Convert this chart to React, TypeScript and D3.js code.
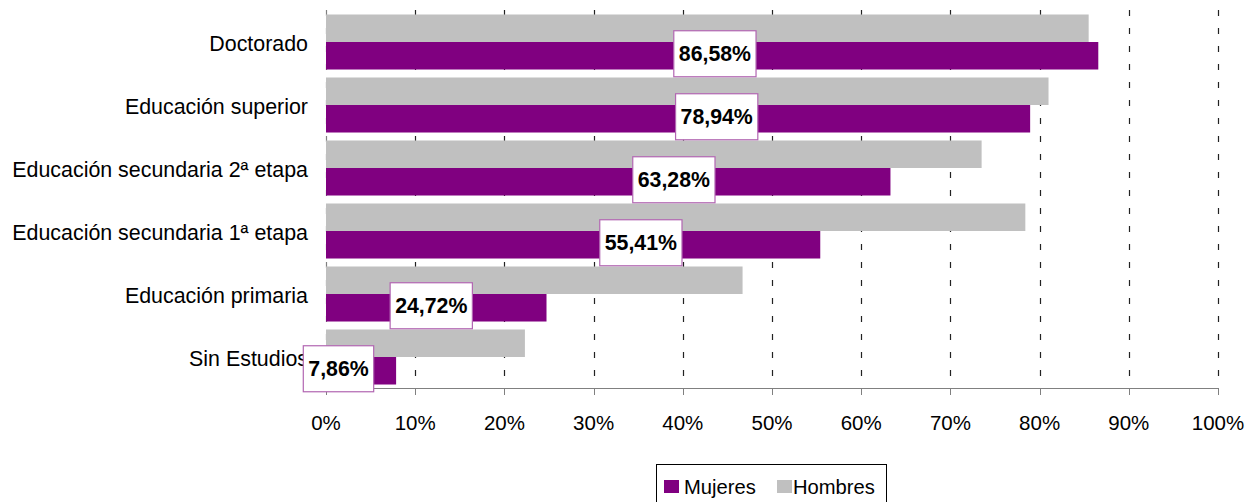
import React, { useEffect, useRef } from "react";
import * as d3 from "d3";

const categories = [
  "Doctorado",
  "Educación superior",
  "Educación secundaria 2ª etapa",
  "Educación secundaria 1ª etapa",
  "Educación primaria",
  "Sin Estudios",
];
const mujeres = [86.58, 78.94, 63.28, 55.41, 24.72, 7.86];
const hombres = [85.5, 81.0, 73.5, 78.4, 46.7, 22.3];
const mujeresLabels = ["86,58%", "78,94%", "63,28%", "55,41%", "24,72%", "7,86%"];
// where each data label sits along the value axis (percent units)
const labelAnchor = [43.6, 43.8, 39.0, 35.3, 11.8, 1.4];
const ticks = [0, 10, 20, 30, 40, 50, 60, 70, 80, 90, 100];
const tickLabels = ticks.map((t) => `${t}%`);
const seriesNames = ["Mujeres", "Hombres"];

const W = 1251;
const H = 502;
const PURPLE = "#800080";
const GRAY = "#C0C0C0";
const FONT = "'Liberation Sans', Arial, sans-serif";

export default function App() {
  const ref = useRef<SVGSVGElement>(null);

  useEffect(() => {
    const svg = d3.select(ref.current);
    svg.selectAll("*").remove();

    const x = d3.scaleLinear().domain([0, 100]).range([326, 1218]);
    const y = d3.scaleBand<string>().domain(categories).range([10.5, 388.5]).padding(0);
    const inner = d3
      .scaleBand<string>()
      .domain(["Hombres", "Mujeres"])
      .range([0, y.bandwidth()])
      .paddingInner(0)
      .paddingOuter(0.145);

    // gridlines
    svg
      .append("g")
      .selectAll("line")
      .data(ticks)
      .join("line")
      .attr("x1", (d) => Math.round(x(d)) + 0.5)
      .attr("x2", (d) => Math.round(x(d)) + 0.5)
      .attr("y1", 10)
      .attr("y2", 388)
      .attr("stroke", (d) => (d === 0 ? "#808080" : "#222"))
      .attr("stroke-width", 1.2)
      .attr("stroke-dasharray", "6,12");

    // category labels (drawn before bars/labels so the data label box can overlap)
    svg
      .append("g")
      .selectAll("text")
      .data(categories)
      .join("text")
      .attr("x", 308)
      .attr("y", (d) => y(d)! + y.bandwidth() / 2 + 9)
      .attr("text-anchor", "end")
      .attr("font-family", FONT)
      .attr("font-size", 21.4)
      .attr("fill", "#000")
      .text((d) => d);

    const bars = svg.append("g");
    bars
      .selectAll("rect.h")
      .data(hombres)
      .join("rect")
      .attr("class", "h")
      .attr("x", x(0))
      .attr("y", (_, i) => y(categories[i])! + inner("Hombres")!)
      .attr("width", (d) => x(d) - x(0))
      .attr("height", inner.bandwidth())
      .attr("fill", GRAY);
    bars
      .selectAll("rect.m")
      .data(mujeres)
      .join("rect")
      .attr("class", "m")
      .attr("x", x(0))
      .attr("y", (_, i) => y(categories[i])! + inner("Mujeres")!)
      .attr("width", (d) => x(d) - x(0))
      .attr("height", inner.bandwidth())
      .attr("fill", PURPLE);

    // x axis line and ticks
    svg
      .append("line")
      .attr("x1", x(0))
      .attr("x2", x(100))
      .attr("y1", 388.5)
      .attr("y2", 388.5)
      .attr("stroke", "#808080");
    svg
      .append("g")
      .selectAll("line")
      .data(ticks)
      .join("line")
      .attr("x1", (d) => Math.round(x(d)) + 0.5)
      .attr("x2", (d) => Math.round(x(d)) + 0.5)
      .attr("y1", 388)
      .attr("y2", 395)
      .attr("stroke", "#808080");
    svg
      .append("g")
      .selectAll("text")
      .data(ticks)
      .join("text")
      .attr("x", (d) => x(d))
      .attr("y", 430)
      .attr("text-anchor", "middle")
      .attr("font-family", FONT)
      .attr("font-size", 20.5)
      .attr("fill", "#000")
      .text((_, i) => tickLabels[i]);

    // data labels
    const lg = svg.append("g");
    mujeresLabels.forEach((lab, i) => {
      const cx = x(labelAnchor[i]);
      const cy = y(categories[i])! + inner("Mujeres")! + inner.bandwidth() / 2 - 2;
      const g = lg.append("g");
      const rect = g.append("rect");
      const t = g
        .append("text")
        .attr("x", cx)
        .attr("y", cy + 7.5)
        .attr("text-anchor", "middle")
        .attr("font-family", FONT)
        .attr("font-size", 21.3)
        .attr("font-weight", "bold")
        .attr("fill", "#000")
        .text(lab);
      const w = (t.node() as SVGTextElement).getComputedTextLength() + 10;
      rect
        .attr("x", cx - w / 2)
        .attr("y", cy - 23)
        .attr("width", w)
        .attr("height", 46)
        .attr("fill", "#fff")
        .attr("stroke", "#B266B2")
        .attr("stroke-width", 1.2);
    });

    // legend
    const leg = svg.append("g");
    leg
      .append("rect")
      .attr("x", 656.5)
      .attr("y", 464.5)
      .attr("width", 230)
      .attr("height", 50)
      .attr("fill", "#fff")
      .attr("stroke", "#000")
      .attr("stroke-width", 1);
    const items = [
      { name: seriesNames[0], color: PURPLE, sx: 664, tx: 684 },
      { name: seriesNames[1], color: GRAY, sx: 777, tx: 793 },
    ];
    items.forEach((it) => {
      leg
        .append("rect")
        .attr("x", it.sx)
        .attr("y", 480)
        .attr("width", 15)
        .attr("height", 13)
        .attr("fill", it.color);
      leg
        .append("text")
        .attr("x", it.tx)
        .attr("y", 494)
        .attr("font-family", FONT)
        .attr("font-size", 20.2)
        .attr("fill", "#000")
        .text(it.name);
    });
  }, []);

  return (
    <svg
      ref={ref}
      width={W}
      height={H}
      style={{ position: "absolute", left: 0, top: 0, background: "#fff" }}
    />
  );
}
